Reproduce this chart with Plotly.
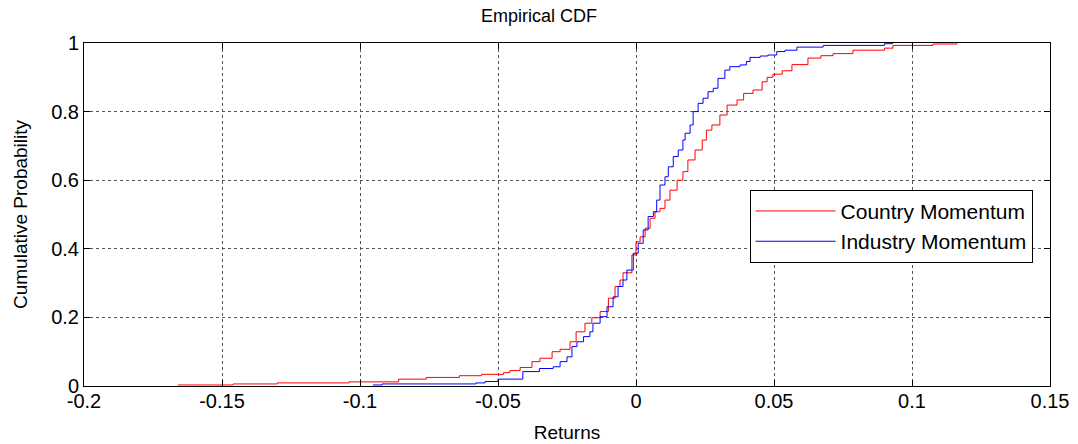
import plotly.graph_objects as go

# Country Momentum empirical CDF (step points)
country_x = [-0.166, -0.146, -0.130, -0.104, -0.086, -0.076, -0.064, -0.056, -0.048,
             -0.0457, -0.042, -0.0377, -0.0348, -0.0304, -0.0275, -0.0239, -0.0217,
             -0.0185, -0.016, -0.013, -0.010, -0.0076, -0.0058, -0.0047, -0.0015, 0.0,
             0.0015, 0.0033, 0.0051, 0.0069, 0.0087, 0.0105, 0.0123, 0.0149, 0.017,
             0.0188, 0.0214, 0.024, 0.0255, 0.0275, 0.0304, 0.033, 0.0366, 0.039,
             0.0424, 0.0457, 0.0475, 0.0496, 0.053, 0.0565, 0.0623, 0.067, 0.0714,
             0.0786, 0.090, 0.0931, 0.1076, 0.1163]
country_y = [0.003, 0.006, 0.009, 0.012, 0.020, 0.025, 0.030, 0.034, 0.039,
             0.045, 0.054, 0.071, 0.081, 0.100, 0.107, 0.129, 0.158,
             0.183, 0.199, 0.217, 0.256, 0.290, 0.309, 0.330, 0.382, 0.420,
             0.435, 0.460, 0.489, 0.508, 0.518, 0.542, 0.571, 0.600, 0.625,
             0.659, 0.688, 0.717, 0.746, 0.761, 0.790, 0.819, 0.834, 0.853,
             0.863, 0.887, 0.900, 0.909, 0.919, 0.937, 0.956, 0.963, 0.969,
             0.979, 0.985, 0.993, 0.997, 1.0]

# Industry Momentum empirical CDF
industry_x = [-0.0953, -0.092, -0.058, -0.0547, -0.050, -0.041, -0.035, -0.030, -0.0275,
              -0.025, -0.0232, -0.0214, -0.019, -0.0167, -0.0156, -0.013, -0.0105,
              -0.0083, -0.0065, -0.0047, -0.0033, -0.001, 0.0008, 0.0026, 0.0044,
              0.0063, 0.0075, 0.0087, 0.0105, 0.0117, 0.0135, 0.0153, 0.017, 0.0178,
              0.0196, 0.0207, 0.0225, 0.0243, 0.0261, 0.028, 0.0297, 0.0322, 0.034,
              0.0377, 0.040, 0.0413, 0.045, 0.0478, 0.051, 0.054, 0.0583, 0.0678,
              0.090, 0.093]
industry_y = [0.003, 0.006, 0.009, 0.013, 0.020, 0.042, 0.051, 0.056, 0.071,
              0.085, 0.115, 0.129, 0.144, 0.158, 0.183, 0.202, 0.231,
              0.260, 0.290, 0.309, 0.338, 0.387, 0.416, 0.455, 0.494,
              0.508, 0.542, 0.586, 0.610, 0.639, 0.669, 0.688, 0.717, 0.737,
              0.761, 0.800, 0.824, 0.839, 0.858, 0.868, 0.897, 0.921, 0.931,
              0.936, 0.946, 0.958, 0.962, 0.965, 0.975, 0.979, 0.988, 0.993,
              0.998, 1.0]

x_ticks = [-0.2, -0.15, -0.1, -0.05, 0, 0.05, 0.1, 0.15]
x_tick_labels = ["-0.2", "-0.15", "-0.1", "-0.05", "0", "0.05", "0.1", "0.15"]
y_ticks = [0, 0.2, 0.4, 0.6, 0.8, 1]
y_tick_labels = ["0", "0.2", "0.4", "0.6", "0.8", "1"]

FONT = "Liberation Sans, Arial, sans-serif"

fig = go.Figure()
fig.add_trace(go.Scatter(x=country_x, y=country_y, mode="lines", line_shape="hv",
                         line=dict(color="#ff0000", width=1), name="Country Momentum"))
fig.add_trace(go.Scatter(x=industry_x, y=industry_y, mode="lines", line_shape="hv",
                         line=dict(color="#0000ff", width=1), name="Industry Momentum"))

axis_common = dict(showline=True, linecolor="black", linewidth=1, mirror="allticks",
                   ticks="inside", ticklen=6, tickcolor="black", automargin=False,
                   showgrid=True, gridcolor="#555555", griddash="dot", gridwidth=1,
                   zeroline=False, tickfont=dict(family=FONT, size=20, color="black"))

fig.update_xaxes(range=[-0.2, 0.15], tickvals=x_ticks, ticktext=x_tick_labels,
                 ticklabelstandoff=-3,
                 title=dict(text="Returns", font=dict(family=FONT, size=19, color="black"),
                            standoff=14), **axis_common)
fig.update_yaxes(range=[0, 1], tickvals=y_ticks, ticktext=y_tick_labels,
                 title=dict(text="Cumulative Probability",
                            font=dict(family=FONT, size=19, color="black"), standoff=18),
                 **axis_common)

fig.update_layout(
    width=1078, height=444,
    margin=dict(l=84, r=28, t=43, b=58),
    paper_bgcolor="white", plot_bgcolor="white",
    title=dict(text="Empirical CDF", x=0.5, xanchor="center", y=0.965, yanchor="middle",
               font=dict(family=FONT, size=18, color="black")),
    legend=dict(x=0.689, y=0.572, xanchor="left", yanchor="top",
                bgcolor="white", bordercolor="black", borderwidth=1,
                font=dict(family=FONT, size=21, color="black"),
                tracegroupgap=0, itemwidth=80),
    showlegend=True,
)

fig.write_html("out.html")
